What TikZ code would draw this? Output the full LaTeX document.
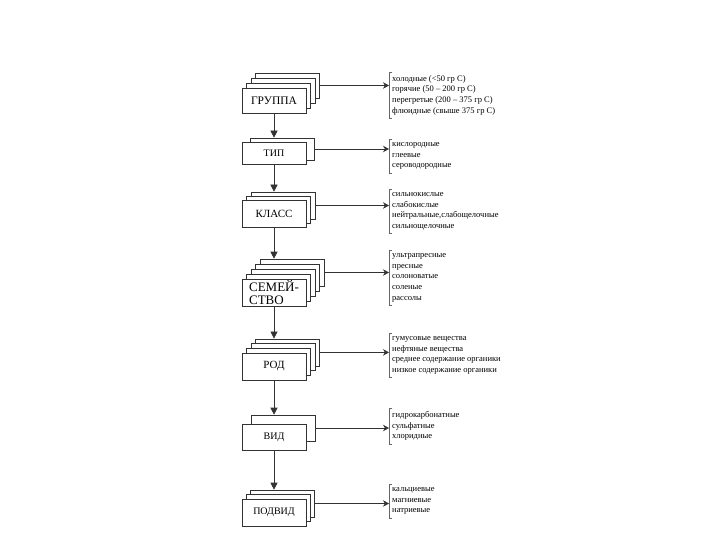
\documentclass[tikz,border=0pt]{standalone}
\usepackage{fontspec}
\setmainfont{Liberation Serif}
\usetikzlibrary{arrows.meta}

\begin{document}
\begin{tikzpicture}[x=1pt, y=-1pt,
    page/.style={draw=black!80, fill=white, line width=0.6pt, minimum width=64pt,
        inner sep=1pt, align=left},
    lst/.style={anchor=north west, align=left, inner xsep=3pt, inner ysep=3pt,
        font=\fontsize{8.5}{10.8}\selectfont},
    harr/.style={draw=black!80, line width=0.6pt, -{Stealth[length=6pt,width=6.5pt]}},
    varr/.style={draw=black!80, line width=0.6pt, -{Triangle[length=7pt,width=7pt]}},
    brk/.style={draw=black!60, line width=0.5pt}]
    \useasboundingbox (0,0) rectangle (720,540);

    % Стопки листов: имя / подпись / центр y / высота / число листов / сдвиг / кегль
    \foreach \n/\txt/\cy/\h/\k/\dx/\dy/\f in {
        gr/ГРУППА/100.5/25/3/4.5/5/11.5,
        tip/ТИП/153/22/1/8/4/10,
        kl/КЛАСС/213.5/27/2/4.5/4/11,
        sem/{СЕМЕЙ-\\СТВО}/292.5/27/4/4.5/5/13,
        rod/РОД/366.5/27/3/4.5/4.7/11,
        vid/ВИД/437/26/1/9/9/10,
        pod/ПОДВИД/512.5/27/2/4/4.5/10} {
        \foreach \i in {\k,...,1}
            \node[page, minimum height=\h] (\n-\i) at (274+\i*\dx, \cy-\i*\dy) {};
        \node[page, minimum height=\h, font=\fontsize{\f}{\f}\selectfont] (\n) at (274,\cy) {\txt};
    }

    % Списки справа
    \node[lst] (gr-list) at (389,72) {холодные (<50 гр С)\\горячие (50 – 200 гр С)\\перегретые (200 – 375 гр С)\\флюидные (свыше 375 гр С)};
    \node[lst] (tip-list) at (389,139) {кислородные\\глеевые\\сероводородные};
    \node[lst] (kl-list) at (389,189) {сильнокислые\\слабокислые\\нейтральные,слабощелочные\\сильнощелочные};
    \node[lst] (sem-list) at (389,250) {ультрапресные\\пресные\\солоноватые\\соленые\\рассолы};
    \node[lst] (rod-list) at (389,333) {гумусовые вещества\\нефтяные вещества\\среднее содержание органики\\низкое содержание органики};
    \node[lst] (vid-list) at (389,408) {гидрокарбонатные\\сульфатные\\хлоридные};
    \node[lst] (pod-list) at (389,484) {кальциевые\\магниевые\\натриевые};

    % Скобки у списков
    \foreach \n in {gr,tip,kl,sem,rod,vid,pod}
        \draw[brk] ([xshift=3pt]\n-list.north west) -| (\n-list.south west) -- ++(3,0);

    % Стрелки к спискам
    \foreach \n/\k in {gr/3, tip/1, kl/2, sem/4, rod/3, vid/1, pod/2}
        \draw[harr] (\n-\k.east) -- (\n-\k.east -| \n-list.west);

    % Стрелки вниз
    \foreach \a/\b/\kb in {gr/tip/1, tip/kl/2, kl/sem/4, sem/rod/3, rod/vid/1, vid/pod/2}
        \draw[varr] (\a.south) -- (\a.south |- \b-\kb.north);
\end{tikzpicture}
\end{document}
